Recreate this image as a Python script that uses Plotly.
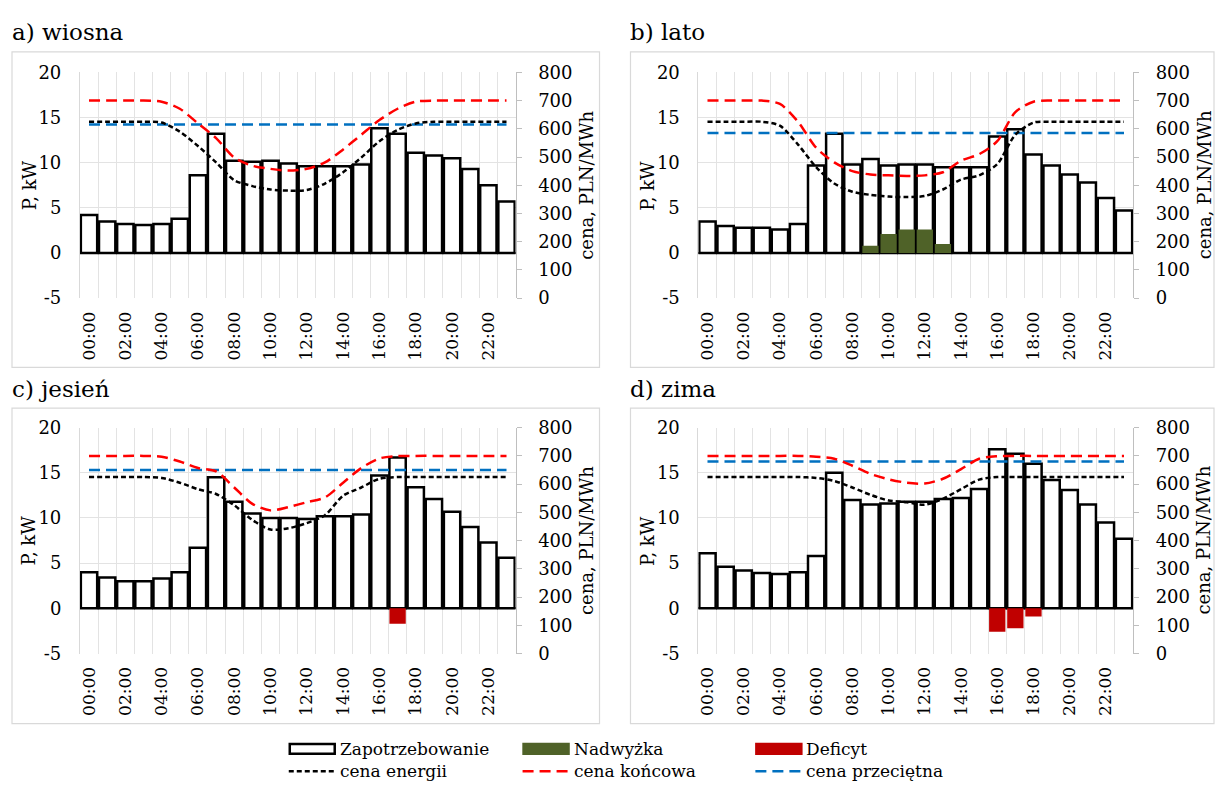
import plotly.graph_objects as go

# ---- data -------------------------------------------------------------
hours = ["00:00", "01:00", "02:00", "03:00", "04:00", "05:00", "06:00", "07:00",
         "08:00", "09:00", "10:00", "11:00", "12:00", "13:00", "14:00", "15:00",
         "16:00", "17:00", "18:00", "19:00", "20:00", "21:00", "22:00", "23:00"]
panel_titles = ["a) wiosna", "b) lato", "c) jesień", "d) zima"]
power_ticks = [-5, 0, 5, 10, 15, 20]
power_tick_text = ["-5", "0", "5", "10", "15", "20"]

# demand, kW
demand_spring = [4.2, 3.5, 3.2, 3.1, 3.2, 3.8, 8.6, 13.2, 10.2, 10.1, 10.2, 9.9,
                 9.6, 9.6, 9.6, 9.8, 13.8, 13.2, 11.1, 10.8, 10.5, 9.3, 7.5, 5.7]
demand_summer = [3.5, 3.0, 2.8, 2.8, 2.6, 3.2, 9.7, 13.2, 9.8, 10.4, 9.7, 9.8,
                 9.8, 9.5, 9.5, 9.5, 12.9, 13.7, 10.9, 9.7, 8.7, 7.8, 6.1, 4.7]
demand_autumn = [4.0, 3.4, 3.0, 3.0, 3.3, 4.0, 6.7, 14.5, 11.8, 10.5, 10.0, 10.0,
                 9.9, 10.2, 10.2, 10.4, 14.7, 16.7, 13.4, 12.1, 10.7, 9.0, 7.3, 5.6]
demand_winter = [6.1, 4.6, 4.2, 3.9, 3.8, 4.0, 5.8, 15.0, 12.0, 11.5, 11.6, 11.8,
                 11.8, 12.1, 12.2, 13.2, 17.6, 17.1, 16.0, 14.2, 13.1, 11.5, 9.5, 7.7]

# surplus (positive) and deficit (negative), kW
surplus_spring = [0] * 24
surplus_summer = [0, 0, 0, 0, 0, 0, 0, 0, 0, 0.8, 2.1, 2.6,
                  2.6, 1.0, 0, 0, 0, 0, 0, 0, 0, 0, 0, 0]
surplus_autumn = [0] * 24
surplus_winter = [0] * 24
deficit_spring = [0] * 24
deficit_summer = [0] * 24
deficit_autumn = [0, 0, 0, 0, 0, 0, 0, 0, 0, 0, 0, 0,
                  0, 0, 0, 0, 0, -1.7, 0, 0, 0, 0, 0, 0]
deficit_winter = [0, 0, 0, 0, 0, 0, 0, 0, 0, 0, 0, 0,
                  0, 0, 0, 0, -2.6, -2.2, -0.9, 0, 0, 0, 0, 0]

# prices, PLN/MWh
energy_spring = [625, 625, 625, 625, 622, 590, 539, 481, 418, 397, 385, 381,
                 383, 406, 446, 498, 556, 596, 619, 625, 625, 625, 625, 625]
final_spring = [700, 700, 700, 700, 696, 671, 619, 567, 498, 469, 458, 452,
                458, 481, 527, 579, 631, 671, 696, 700, 700, 700, 700, 700]
average_spring = [615] * 24

energy_summer = [625, 625, 625, 625, 611, 544, 464, 406, 377, 366, 360, 358,
                 362, 385, 420, 435, 475, 579, 622, 625, 625, 625, 625, 625]
final_summer = [700, 700, 700, 700, 688, 625, 533, 481, 450, 438, 435, 433,
                435, 446, 487, 510, 556, 659, 696, 700, 700, 700, 700, 700]
average_summer = [585] * 24

energy_autumn = [625, 625, 625, 625, 622, 605, 582, 565, 525, 473, 439, 444,
                 462, 490, 559, 588, 619, 625, 625, 625, 625, 625, 625, 625]
final_autumn = [700, 700, 700, 700, 697, 680, 657, 645, 588, 530, 507, 519,
                536, 553, 605, 657, 691, 699, 700, 700, 700, 700, 700, 700]
average_autumn = [650] * 24

energy_winter = [625, 625, 625, 625, 625, 625, 622, 611, 588, 562, 542, 536,
                 527, 548, 582, 616, 625, 625, 625, 625, 625, 625, 625, 625]
final_winter = [700, 700, 700, 700, 700, 700, 697, 690, 665, 636, 617, 605,
                602, 619, 653, 690, 699, 700, 700, 700, 700, 700, 700, 700]
average_winter = [680] * 24

legend_labels = ["Zapotrzebowanie", "Nadwyżka", "Deficyt",
                 "cena energii", "cena końcowa", "cena przeciętna"]

# ---- styling ------------------------------------------------------------
W, H = 1216, 792
FONT = "DejaVu Serif"
GREEN = "#4F6228"
RED_BAR = "#C00000"
RED_LINE = "#FF0000"
BLUE_LINE = "#0070C0"
GRID = "#E3E3E3"
FRAME = "#D9D9D9"
DASH_SHORT = "5px,3px"
DASH_LONG = "11px,6px"


def px_x(x):
    return x / W


def px_y(y):
    return 1 - y / H


panels = [
    (demand_spring, surplus_spring, deficit_spring, energy_spring, final_spring, average_spring),
    (demand_summer, surplus_summer, deficit_summer, energy_summer, final_summer, average_summer),
    (demand_autumn, surplus_autumn, deficit_autumn, energy_autumn, final_autumn, average_autumn),
    (demand_winter, surplus_winter, deficit_winter, energy_winter, final_winter, average_winter),
]

# plot areas (pixels): left, right, top, bottom; chart frames around them
plot_boxes = [(79, 515, 63, 295), (698, 1133, 63, 295),
              (79, 515, 428, 660), (698, 1133, 428, 660)]
chart_boxes = [(11, 599, 42, 366), (630, 1214, 42, 366),
               (11, 599, 408, 732), (630, 1214, 408, 732)]

idx = list(range(len(hours)))
fig = go.Figure()
layout = {}
shapes = []
annotations = []

for k, (dem, sur, dfc, en, fin, avg) in enumerate(panels, start=1):
    xa, ya, yr = f"x{k}", f"y{k}", f"y{k + 4}"
    fig.add_trace(go.Bar(x=idx, y=dem, xaxis=xa, yaxis=ya, name=legend_labels[0],
                         marker=dict(color="white", line=dict(color="black", width=2.5)),
                         showlegend=False))
    fig.add_trace(go.Bar(x=idx, y=sur, xaxis=xa, yaxis=ya, name=legend_labels[1],
                         marker=dict(color=GREEN, line=dict(width=0)), showlegend=False))
    fig.add_trace(go.Bar(x=idx, y=dfc, xaxis=xa, yaxis=ya, name=legend_labels[2],
                         marker=dict(color=RED_BAR, line=dict(width=0)), showlegend=False))
    fig.add_trace(go.Scatter(x=idx, y=avg, xaxis=xa, yaxis=yr, mode="lines",
                             name=legend_labels[5], showlegend=False,
                             line=dict(color=BLUE_LINE, width=2.5, dash=DASH_LONG)))
    fig.add_trace(go.Scatter(x=idx, y=fin, xaxis=xa, yaxis=yr, mode="lines",
                             name=legend_labels[4], showlegend=False,
                             line=dict(color=RED_LINE, width=2.5, dash=DASH_LONG,
                                       shape="spline", smoothing=0.8)))
    fig.add_trace(go.Scatter(x=idx, y=en, xaxis=xa, yaxis=yr, mode="lines",
                             name=legend_labels[3], showlegend=False,
                             line=dict(color="black", width=2.5, dash=DASH_SHORT,
                                       shape="spline", smoothing=0.8)))

    l, r, t, b = plot_boxes[k - 1]
    xdom = [px_x(l), px_x(r)]
    ydom = [px_y(b), px_y(t)]
    layout[f"xaxis{k}"] = dict(
        domain=xdom, anchor=ya, range=[-0.5, len(hours) - 0.5],
        tickmode="array", tickvals=idx[::2], ticktext=hours[::2], tickangle=-90,
        ticks="", showgrid=False, zeroline=False, showline=False,
        ticklabelstandoff=9,
        tickfont=dict(family=FONT, size=17, color="black"),
        minor=dict(tickmode="array", tickvals=[i - 0.5 for i in range(len(hours) + 1)],
                   showgrid=True, gridcolor=GRID, gridwidth=1, ticks=""),
    )
    layout[f"yaxis{k}"] = dict(
        domain=ydom, anchor=xa, range=[-5, 20],
        tickmode="array", tickvals=power_ticks, ticktext=power_tick_text,
        showgrid=True, gridcolor=GRID, gridwidth=1,
        zeroline=True, zerolinecolor="#7F7F7F", zerolinewidth=2,
        showline=True, linecolor=FRAME, linewidth=1, ticks="",
        ticklabelstandoff=14,
        tickfont=dict(family=FONT, size=18, color="black"),
    )
    layout[f"yaxis{k + 4}"] = dict(
        overlaying=ya, side="right", anchor=xa, range=[0, 800],
        tickmode="linear", tick0=0, dtick=100,
        showgrid=False, zeroline=False,
        showline=True, linecolor="#BFBFBF", linewidth=1,
        ticks="outside", ticklen=5, tickcolor="#BFBFBF",
        ticklabelstandoff=13,
        tickfont=dict(family=FONT, size=18, color="black"),
    )

    # chart frame
    cl, cr, ct, cb = chart_boxes[k - 1]
    shapes.append(dict(type="rect", xref="paper", yref="paper",
                       x0=px_x(cl), x1=px_x(cr), y0=px_y(cb), y1=px_y(ct),
                       line=dict(color=FRAME, width=1.2), fillcolor="rgba(0,0,0,0)",
                       layer="below"))
    # panel title
    annotations.append(dict(text=panel_titles[k - 1], xref="paper", yref="paper",
                            x=px_x(cl - 2), y=px_y(ct - 20), xanchor="left", yanchor="middle",
                            showarrow=False, font=dict(family=FONT, size=23, color="black")))
    # axis titles
    mid = (t + b) / 2
    annotations.append(dict(text="P, kW", xref="paper", yref="paper",
                            x=px_x(l - 51), y=px_y(mid), xanchor="center", yanchor="middle",
                            textangle=-90, showarrow=False,
                            font=dict(family=FONT, size=18, color="black")))
    annotations.append(dict(text="cena, PLN/MWh", xref="paper", yref="paper",
                            x=px_x(r + 71), y=px_y(mid), xanchor="center", yanchor="middle",
                            textangle=-90, showarrow=False,
                            font=dict(family=FONT, size=18, color="black")))

# ---- legend (two rows of three entries) ----------------------------------
col_x = [288, 522, 755]
row_y = [758, 781]
sym_w = 46
legend_styles = [
    dict(kind="box", fill="white", line="black"),
    dict(kind="box", fill=GREEN, line=GREEN),
    dict(kind="box", fill=RED_BAR, line=RED_BAR),
    dict(kind="line", color="black", dash=DASH_SHORT),
    dict(kind="line", color=RED_LINE, dash=DASH_LONG),
    dict(kind="line", color=BLUE_LINE, dash=DASH_LONG),
]
for i, (label, st) in enumerate(zip(legend_labels, legend_styles)):
    cx = col_x[i % 3]
    cy = row_y[i // 3]
    if st["kind"] == "box":
        shapes.append(dict(type="rect", xref="paper", yref="paper",
                           x0=px_x(cx + 1), x1=px_x(cx + sym_w), y0=px_y(cy + 5), y1=px_y(cy - 5),
                           fillcolor=st["fill"], line=dict(color=st["line"], width=2.5)))
    else:
        shapes.append(dict(type="line", xref="paper", yref="paper",
                           x0=px_x(cx), x1=px_x(cx + sym_w), y0=px_y(cy), y1=px_y(cy),
                           line=dict(color=st["color"], width=2.5, dash=st["dash"])))
    annotations.append(dict(text=label, xref="paper", yref="paper",
                            x=px_x(cx + sym_w + 3), y=px_y(cy), xanchor="left", yanchor="middle",
                            showarrow=False, font=dict(family=FONT, size=17, color="black")))

fig.update_layout(
    width=W, height=H, margin=dict(l=0, r=0, t=0, b=0),
    paper_bgcolor="white", plot_bgcolor="white",
    barmode="overlay", bargap=0.1,
    font=dict(family=FONT, size=18, color="black"),
    shapes=shapes, annotations=annotations, showlegend=False,
    **layout,
)

fig.write_html("out.html", post_script="document.body.style.margin = '0';")
